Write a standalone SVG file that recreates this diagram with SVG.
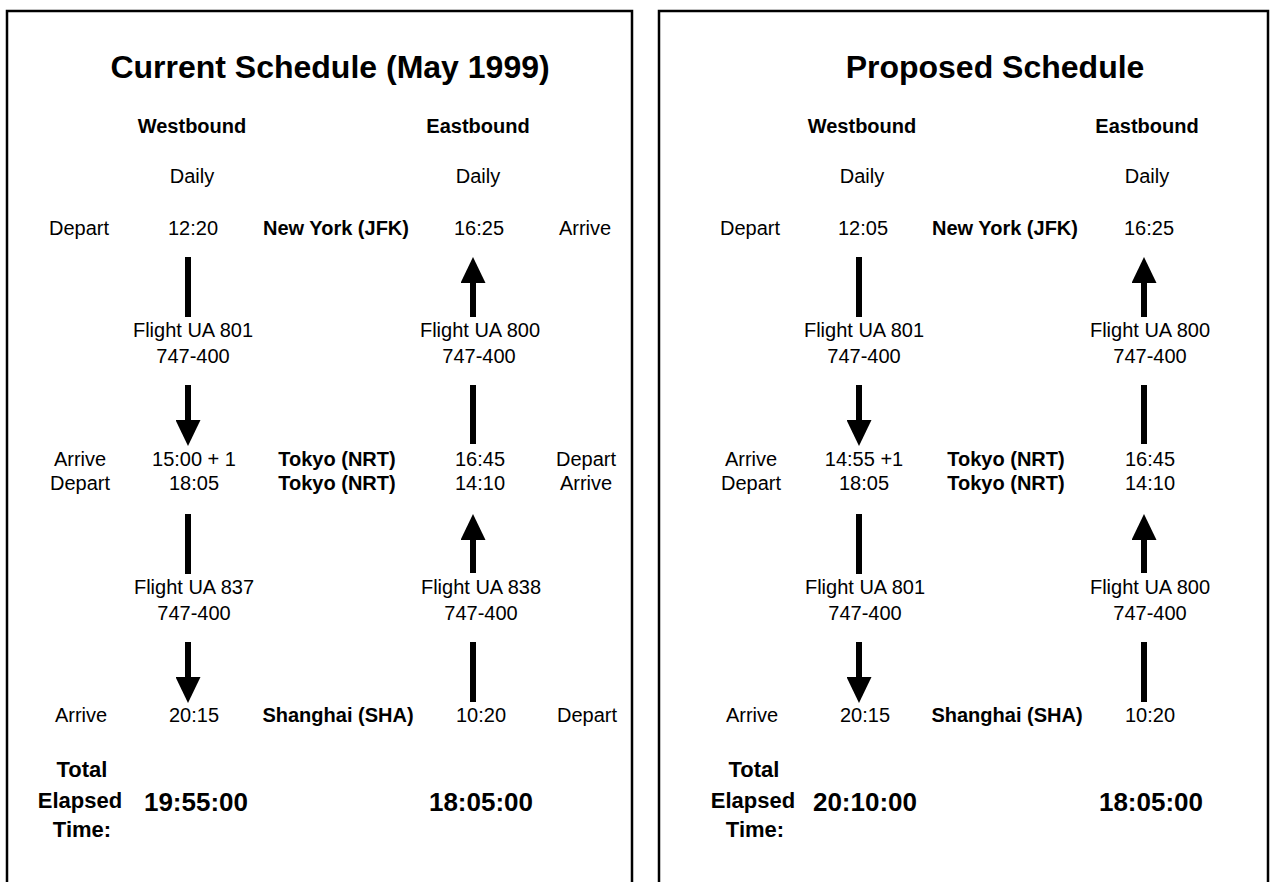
<svg xmlns="http://www.w3.org/2000/svg" width="1274" height="882" viewBox="0 0 1274 882">
<defs>
<marker id="ah" viewBox="0 0 26 25" refX="0" refY="12.5" markerWidth="26" markerHeight="25" markerUnits="userSpaceOnUse" orient="auto">
<path d="M0,0 L26,12.5 L0,25 z" fill="#000"/>
</marker>
<style>
text{font-family:"Liberation Sans",Arial,sans-serif;fill:#000;text-anchor:middle}
.r{font-size:20px}
.b{font-size:20px;font-weight:bold}
.t{font-size:32px;font-weight:bold}
.tot{font-size:22px;font-weight:bold}
.big{font-size:26px;font-weight:bold}
.frame{fill:none;stroke:#000;stroke-width:2.5}
.bar{stroke:#000;stroke-width:6;fill:none}
.arr{stroke:#000;stroke-width:6;fill:none;marker-end:url(#ah)}
</style>
</defs>
<rect width="1274" height="882" fill="#fff"/>
<g id="panel-current">
<path class="frame" d="M7,884 V11 H632 V884"/>
<text class="t" x="330" y="78">Current Schedule (May 1999)</text>
</g>
<g id="panel-proposed">
<path class="frame" d="M659,884 V11 H1268 V884"/>
<text class="t" x="995" y="78">Proposed Schedule</text>
</g>
<g id="current-headers">
<text class="b" x="192" y="133">Westbound</text>
<text class="b" x="478" y="133">Eastbound</text>
<text class="r" x="192" y="183">Daily</text>
<text class="r" x="478" y="183">Daily</text>
</g>
<g id="current-jfk">
<text class="r" x="79" y="235">Depart</text>
<text class="r" x="193" y="235">12:20</text>
<text class="b" x="336" y="235">New York (JFK)</text>
<text class="r" x="479" y="235">16:25</text>
<text class="r" x="585" y="235">Arrive</text>
</g>
<g id="current-flight-801">
<text class="r" x="193" y="337">Flight UA 801</text>
<text class="r" x="193" y="363">747-400</text>
</g>
<g id="current-flight-800">
<text class="r" x="480" y="337">Flight UA 800</text>
<text class="r" x="479" y="363">747-400</text>
</g>
<g id="current-nrt">
<text class="r" x="80" y="466">Arrive</text>
<text class="r" x="194" y="466">15:00 + 1</text>
<text class="b" x="337" y="466">Tokyo (NRT)</text>
<text class="r" x="480" y="466">16:45</text>
<text class="r" x="586" y="466">Depart</text>
<text class="r" x="80" y="490">Depart</text>
<text class="r" x="194" y="490">18:05</text>
<text class="b" x="337" y="490">Tokyo (NRT)</text>
<text class="r" x="480" y="490">14:10</text>
<text class="r" x="586" y="490">Arrive</text>
</g>
<g id="current-flight-837">
<text class="r" x="194" y="594">Flight UA 837</text>
<text class="r" x="194" y="620">747-400</text>
</g>
<g id="current-flight-838">
<text class="r" x="481" y="594">Flight UA 838</text>
<text class="r" x="481" y="620">747-400</text>
</g>
<g id="current-sha">
<text class="r" x="81" y="722">Arrive</text>
<text class="r" x="194" y="722">20:15</text>
<text class="b" x="338" y="722">Shanghai (SHA)</text>
<text class="r" x="481" y="722">10:20</text>
<text class="r" x="587" y="722">Depart</text>
</g>
<g id="current-total">
<text class="tot" x="82" y="777">Total</text>
<text class="tot" x="80" y="808">Elapsed</text>
<text class="tot" x="82" y="837">Time:</text>
<text class="big" x="196" y="811">19:55:00</text>
<text class="big" x="481" y="811">18:05:00</text>
</g>
<g id="proposed-headers">
<text class="b" x="862" y="133">Westbound</text>
<text class="b" x="1147" y="133">Eastbound</text>
<text class="r" x="862" y="183">Daily</text>
<text class="r" x="1147" y="183">Daily</text>
</g>
<g id="proposed-jfk">
<text class="r" x="750" y="235">Depart</text>
<text class="r" x="863" y="235">12:05</text>
<text class="b" x="1005" y="235">New York (JFK)</text>
<text class="r" x="1149" y="235">16:25</text>
</g>
<g id="proposed-flight-801a">
<text class="r" x="864" y="337">Flight UA 801</text>
<text class="r" x="864" y="363">747-400</text>
</g>
<g id="proposed-flight-800a">
<text class="r" x="1150" y="337">Flight UA 800</text>
<text class="r" x="1150" y="363">747-400</text>
</g>
<g id="proposed-nrt">
<text class="r" x="751" y="466">Arrive</text>
<text class="r" x="864" y="466">14:55 +1</text>
<text class="b" x="1006" y="466">Tokyo (NRT)</text>
<text class="r" x="1150" y="466">16:45</text>
<text class="r" x="751" y="490">Depart</text>
<text class="r" x="864" y="490">18:05</text>
<text class="b" x="1006" y="490">Tokyo (NRT)</text>
<text class="r" x="1150" y="490">14:10</text>
</g>
<g id="proposed-flight-801b">
<text class="r" x="865" y="594">Flight UA 801</text>
<text class="r" x="865" y="620">747-400</text>
</g>
<g id="proposed-flight-800b">
<text class="r" x="1150" y="594">Flight UA 800</text>
<text class="r" x="1150" y="620">747-400</text>
</g>
<g id="proposed-sha">
<text class="r" x="752" y="722">Arrive</text>
<text class="r" x="865" y="722">20:15</text>
<text class="b" x="1007" y="722">Shanghai (SHA)</text>
<text class="r" x="1150" y="722">10:20</text>
</g>
<g id="proposed-total">
<text class="tot" x="754" y="777">Total</text>
<text class="tot" x="753" y="808">Elapsed</text>
<text class="tot" x="755" y="837">Time:</text>
<text class="big" x="865" y="811">20:10:00</text>
<text class="big" x="1151" y="811">18:05:00</text>
</g>
<g id="connectors">
<line class="bar" x1="188" y1="257" x2="188" y2="317"/>
<line class="arr" x1="473" y1="317" x2="473" y2="283"/>
<line class="arr" x1="188" y1="385" x2="188" y2="420"/>
<line class="bar" x1="473" y1="385" x2="473" y2="444"/>
<line class="bar" x1="188" y1="514" x2="188" y2="574"/>
<line class="arr" x1="473" y1="573" x2="473" y2="540"/>
<line class="arr" x1="188" y1="642" x2="188" y2="677"/>
<line class="bar" x1="473" y1="642" x2="473" y2="702"/>
<line class="bar" x1="859" y1="257" x2="859" y2="317"/>
<line class="arr" x1="1144" y1="317" x2="1144" y2="283"/>
<line class="arr" x1="859" y1="385" x2="859" y2="420"/>
<line class="bar" x1="1144" y1="385" x2="1144" y2="444"/>
<line class="bar" x1="859" y1="514" x2="859" y2="574"/>
<line class="arr" x1="1144" y1="573" x2="1144" y2="540"/>
<line class="arr" x1="859" y1="642" x2="859" y2="677"/>
<line class="bar" x1="1144" y1="642" x2="1144" y2="702"/>
</g>
</svg>
